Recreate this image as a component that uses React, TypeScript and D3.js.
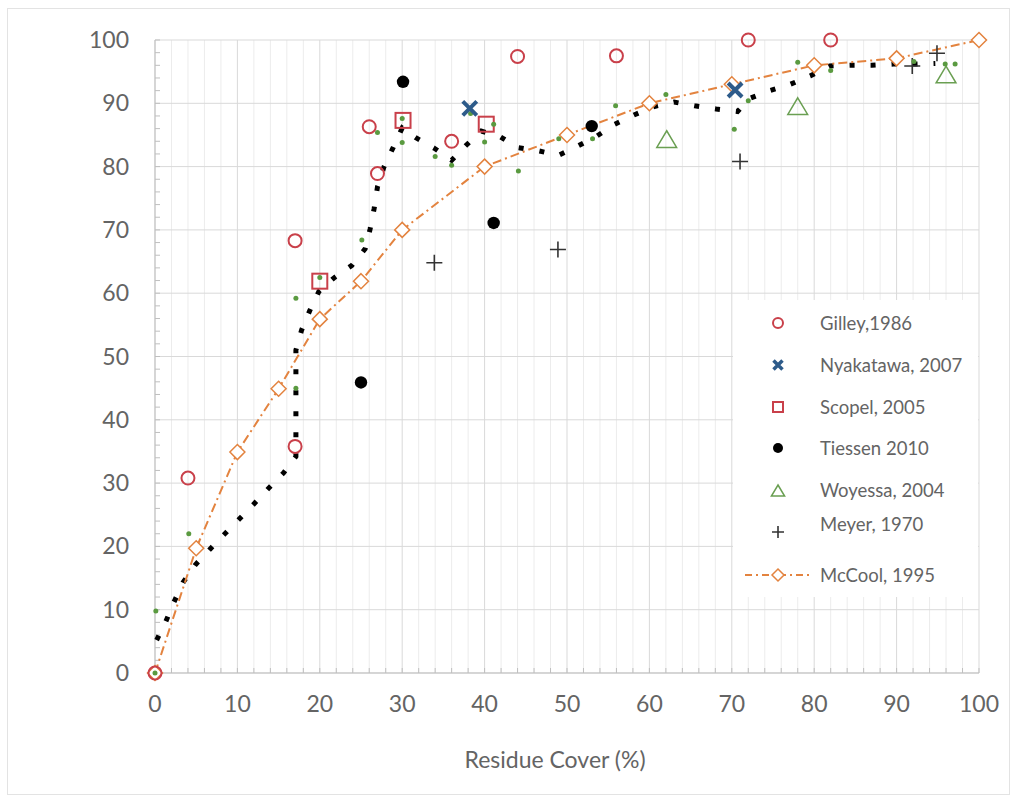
import React from "react";
import * as d3 from "d3";

// ---- Data (x = residue cover %, y = value %) ----
const gilley: [number, number][] = [
  [0, 0], [4, 30.8], [17, 68.3], [17, 35.8], [26, 86.3], [27, 78.9], [36, 84], [44, 97.4], [56, 97.5], [72, 100], [82, 100],
];
const nyakatawa: [number, number][] = [[38.2, 89.2], [70.4, 92.1]];
const scopel: [number, number][] = [[20, 61.9], [30.1, 87.3], [40.2, 86.7]];
const tiessen: [number, number][] = [[30.1, 93.4], [25, 45.9], [41.1, 71.1], [53, 86.4]];
const woyessa: [number, number][] = [[62.1, 84.4], [78, 89.6], [96, 94.6]];
const meyer: [number, number][] = [[33.9, 64.8], [48.9, 66.9], [71, 80.8], [91.9, 95.9], [94.9, 97.9]];
const mccool: [number, number][] = [
  [0, 0], [5, 19.7], [10, 34.9], [15, 44.9], [20, 55.9], [25, 61.9], [30, 70], [40, 80], [50, 85], [60, 90], [70, 93], [80, 96], [90, 97.1], [100, 100],
];
const combinedTrend: [number, number][] = [
  [0.2, 5.2], [1.3, 8.1], [2.3, 11.2], [3.4, 14.3], [4.9, 17.1], [6.7, 19.6], [8.4, 21.9], [10.2, 24.3], [12, 26.7],
  [13.8, 29.2], [15.6, 31.6], [17.1, 34.2], [17.1, 37.6], [17.1, 40.9], [17.1, 44.2], [17.1, 47.7], [17.1, 51],
  [17.8, 54.2], [18.8, 57.3], [19.9, 60.3], [21.8, 62.5], [23.9, 64.4], [25.5, 67], [26.1, 70.1], [26.6, 73.4],
  [27, 76.8], [27.8, 80], [28.9, 83], [30, 86.1], [31.6, 84.6], [33.9, 82.9], [36, 81], [37.7, 83.3], [39.6, 85.6],
  [41.8, 84.8], [44, 83], [46.5, 82.5], [49, 81.8], [51.4, 83.3], [53.6, 84.8], [55.8, 86.7], [58.2, 88.2],
  [60.6, 89.5], [63, 90.2], [65.5, 89.6], [68.1, 89.1], [70.7, 88.7], [72.2, 90.8], [74.6, 92], [77.1, 93],
  [79.5, 94.3], [81.9, 95.9], [84.4, 96], [87, 96], [89.6, 96.2], [92.2, 96.2], [94.7, 96.3],
];
const greenPoints: [number, number][] = [
  [0, 0], [0.1, 9.8], [4.1, 22], [17.1, 59.2], [17.1, 45], [20, 62.5], [25.1, 68.4], [27, 85.4], [30, 87.6], [30, 83.8],
  [34, 81.6], [36, 80.2], [38.3, 88.4], [40, 83.9], [41.1, 86.7], [44.1, 79.3], [49, 84.4], [53.1, 84.4], [55.9, 89.6],
  [62, 91.4], [70.3, 85.9], [72, 90.4], [78, 96.5], [82, 95.2], [92.1, 96.6], [95.9, 96.2], [97.1, 96.2],
];
const xTicks = [0, 10, 20, 30, 40, 50, 60, 70, 80, 90, 100];
const yTicks = [0, 10, 20, 30, 40, 50, 60, 70, 80, 90, 100];
const legendLabels = ["Gilley,1986", "Nyakatawa, 2007", "Scopel, 2005", "Tiessen 2010", "Woyessa, 2004", "Meyer, 1970", "McCool, 1995"];
const xTitle = "Residue Cover (%)";

const RED = "#c9404a";
const BLUE = "#2d5b8a";
const GREEN = "#6a9f52";
const GREEN_DOT = "#5a9a40";
const ORANGE = "#e3833f";
const TEXT = "#646464";
const FONT = "Lato, 'Open Sans', sans-serif";

export default function App() {
  const W = 1017, H = 801;
  const x = d3.scaleLinear().domain([0, 100]).range([155, 979]);
  const y = d3.scaleLinear().domain([0, 100]).range([673, 40]);
  const line = d3.line<[number, number]>().x(d => x(d[0])).y(d => y(d[1]));
  const minorX = d3.range(0, 101, 2);
  const minorY = d3.range(0, 101, 2);

  const circle = (cx: number, cy: number, r: number, k: string) => (
    <circle key={k} cx={cx} cy={cy} r={r} fill="none" stroke={RED} strokeWidth={2} />
  );
  const cross = (cx: number, cy: number, s: number, w: number, k: string) => (
    <path key={k} d={`M${cx - s},${cy - s}L${cx + s},${cy + s}M${cx - s},${cy + s}L${cx + s},${cy - s}`} stroke={BLUE} strokeWidth={w} fill="none" />
  );
  const square = (cx: number, cy: number, s: number, k: string) => (
    <rect key={k} x={cx - s} y={cy - s} width={2 * s} height={2 * s} fill="none" stroke={RED} strokeWidth={2} />
  );
  const dot = (cx: number, cy: number, r: number, k: string) => <circle key={k} cx={cx} cy={cy} r={r} fill="#000" />;
  const tri = (cx: number, cy: number, s: number, k: string) => (
    <path key={k} d={`M${cx},${cy - s}L${cx + s * 1.1},${cy + s * 0.85}L${cx - s * 1.1},${cy + s * 0.85}Z`} fill="none" stroke={GREEN} strokeWidth={1.5} />
  );
  const plus = (cx: number, cy: number, s: number, k: string) => (
    <path key={k} d={`M${cx - s},${cy}L${cx + s},${cy}M${cx},${cy - s}L${cx},${cy + s}`} stroke="#333" strokeWidth={1.6} fill="none" />
  );
  const diamond = (cx: number, cy: number, s: number, k: string) => (
    <path key={k} d={`M${cx},${cy - s}L${cx + s},${cy}L${cx},${cy + s}L${cx - s},${cy}Z`} fill="#fff" stroke={ORANGE} strokeWidth={1.5} />
  );

  const legendX = 778, textX = 820;
  const legendY = [323, 365, 407, 448, 490, 530, 575];

  return (
    <svg width={W} height={H} style={{ position: "absolute", left: 0, top: 0, background: "#fff" }} fontFamily={FONT}>
      <rect x={7.5} y={8.5} width={1002} height={786} fill="#fff" stroke="#e3e3e3" />
      {/* minor vertical grid */}
      {minorX.filter(v => v % 10 !== 0).map(v => (
        <line key={"mx" + v} x1={x(v)} x2={x(v)} y1={y(100)} y2={y(0)} stroke="#ececec" strokeWidth={1} />
      ))}
      {/* major grid */}
      {xTicks.map(v => (
        <line key={"gx" + v} x1={x(v)} x2={x(v)} y1={y(100)} y2={y(0)} stroke="#d9d9d9" strokeWidth={1} />
      ))}
      {yTicks.map(v => (
        <line key={"gy" + v} x1={x(0)} x2={x(100)} y1={y(v)} y2={y(v)} stroke="#d9d9d9" strokeWidth={1} />
      ))}
      {/* axes */}
      <line x1={x(0)} x2={x(0)} y1={y(100)} y2={y(0)} stroke="#bfbfbf" />
      <line x1={x(0)} x2={x(100)} y1={y(0)} y2={y(0)} stroke="#bfbfbf" />
      {minorY.map(v => (
        <line key={"ty" + v} x1={x(0)} x2={x(0) + 5} y1={y(v)} y2={y(v)} stroke="#bfbfbf" />
      ))}
      {minorX.map(v => (
        <line key={"tx" + v} x1={x(v)} x2={x(v)} y1={y(0)} y2={y(0) - 5} stroke="#bfbfbf" />
      ))}
      {/* tick labels */}
      {yTicks.map(v => (
        <text key={"ly" + v} x={129} y={y(v) + 8} textAnchor="end" fontSize={23} fill={TEXT}>{v}</text>
      ))}
      {xTicks.map(v => (
        <text key={"lx" + v} x={x(v)} y={712} textAnchor="middle" fontSize={23} fill={TEXT}>{v}</text>
      ))}
      <text x={555} y={768} textAnchor="middle" fontSize={23} fill={TEXT}>{xTitle}</text>

      {/* legend background */}
      <rect x={733} y={300} width={245} height={297} fill="#fff" />

      {/* combined dotted trend */}
      <path d={line(combinedTrend) || ""} fill="none" stroke="#000" strokeWidth={5} strokeDasharray="5 16" />
      {/* McCool */}
      <path d={line(mccool) || ""} fill="none" stroke={ORANGE} strokeWidth={2} strokeDasharray="9 4 2 4" />
      {mccool.map((d, i) => diamond(x(d[0]), y(d[1]), 7.5, "mc" + i))}
      {gilley.map((d, i) => circle(x(d[0]), y(d[1]), 6.5, "gi" + i))}
      {scopel.map((d, i) => square(x(d[0]), y(d[1]), 7.5, "sc" + i))}
      {tiessen.map((d, i) => dot(x(d[0]), y(d[1]), 6.2, "ti" + i))}
      {woyessa.map((d, i) => tri(x(d[0]), y(d[1]) + 1, 9, "wo" + i))}
      {meyer.map((d, i) => plus(x(d[0]), y(d[1]), 8, "me" + i))}
      {greenPoints.map((d, i) => (
        <circle key={"gp" + i} cx={x(d[0])} cy={y(d[1])} r={2.5} fill={GREEN_DOT} />
      ))}
      {nyakatawa.map((d, i) => cross(x(d[0]), y(d[1]), 7, 4, "ny" + i))}

      {/* legend */}
      {circle(legendX, legendY[0], 5, "lg0")}
      {cross(legendX, legendY[1], 4.5, 3.5, "lg1")}
      {square(legendX, legendY[2], 5, "lg2")}
      {dot(legendX, legendY[3], 5, "lg3")}
      {tri(legendX, legendY[4] + 1, 6, "lg4")}
      {plus(legendX, legendY[5] + 2, 6, "lg5")}
      <line x1={745} x2={810} y1={legendY[6]} y2={legendY[6]} stroke={ORANGE} strokeWidth={2} strokeDasharray="7 4 2 4" />
      {diamond(legendX, legendY[6], 6, "lg6")}
      {legendLabels.map((t, i) => (
        <text key={"lt" + i} x={textX} y={legendY[i] + (i === 5 ? -6 : 0) + 6.5} fontSize={18.5} fill={TEXT}>{t}</text>
      ))}
    </svg>
  );
}
